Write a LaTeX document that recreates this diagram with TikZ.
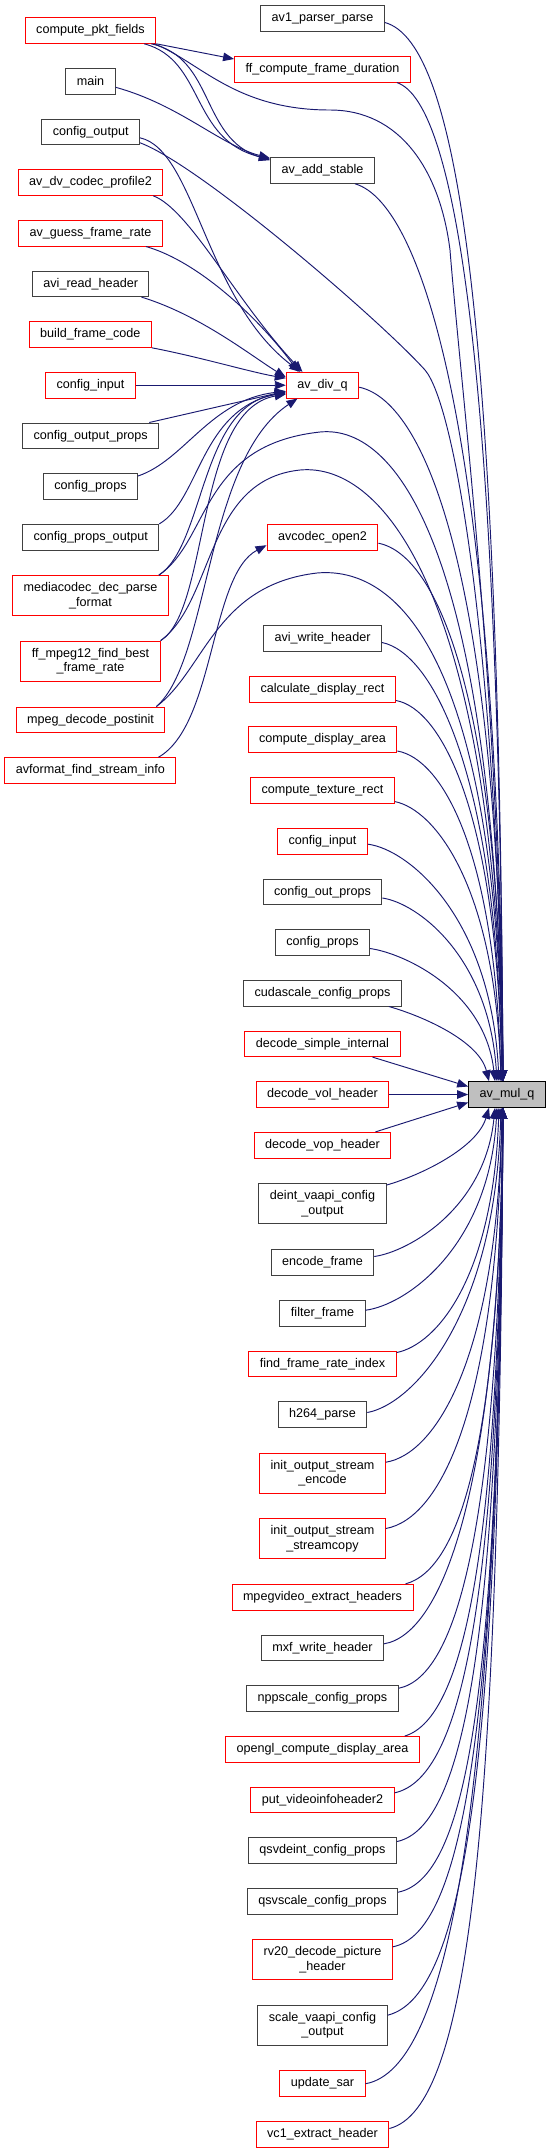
\documentclass[tikz,border=0pt]{standalone}
\usepackage{fontspec}
\setmainfont{Liberation Sans}
\usetikzlibrary{arrows.meta}
\definecolor{edgeblue}{HTML}{191970}
\definecolor{nodered}{HTML}{FF0000}
\definecolor{nodegrey}{HTML}{404040}
\definecolor{mulgrey}{HTML}{BFBFBF}

\begin{document}
\begin{tikzpicture}[
            x=1pt, y=-1pt,
            callbox/.style={draw, line width=1pt, minimum height=25.6pt, inner xsep=11pt, inner ysep=1pt,
                align=center, font=\fontsize{12.6}{14.7}\selectfont},
            redbox/.style={callbox, draw=nodered},
            greybox/.style={callbox, draw=nodegrey},
            tall/.style={minimum height=40.3pt},
            calls/.style={draw=edgeblue, line width=0.95pt, -{Triangle[length=11pt,width=8.5pt]}}
        ]
        \useasboundingbox (0,0) rectangle (551,2153);

        % --- Callers of the callers (left column) ---
        \node[redbox]  (cpf)    at (90.5,30.5)  {compute\_pkt\_fields};
        \node[greybox] (main)   at (90.5,81.3)  {main};
        \node[greybox] (cfgout) at (90.7,131.8) {config\_output};
        \node[redbox]  (dvprof) at (90.5,182.5) {av\_dv\_codec\_profile2};
        \node[redbox]  (guess)  at (90.5,233.2) {av\_guess\_frame\_rate};
        \node[greybox] (avird)  at (90.7,283.8) {avi\_read\_header};
        \node[redbox]  (bfc)    at (90.3,334.5) {build\_frame\_code};
        \node[redbox]  (cfgin)  at (90.5,385.2) {config\_input};
        \node[greybox] (cop1)   at (90.7,435.8) {config\_output\_props};
        \node[greybox] (cprops) at (90.5,486.3) {config\_props};
        \node[greybox] (cpo)    at (90.7,537.2) {config\_props\_output};
        \node[redbox,tall] (mcd)    at (90.5,595.8) {mediacodec\_dec\_parse\\\_format};
        \node[redbox,tall] (mpeg12) at (90.5,661.2) {ff\_mpeg12\_find\_best\\\_frame\_rate};
        \node[redbox]  (mdp)    at (90.5,719.8) {mpeg\_decode\_postinit};
        \node[redbox]  (afsi)   at (90.4,770.5) {avformat\_find\_stream\_info};

        % --- Direct callers (middle column) ---
        \node[greybox] (av1)     at (322.5,18.5)   {av1\_parser\_parse};
        \node[redbox]  (ffcfd)   at (322.5,69.3)   {ff\_compute\_frame\_duration};
        \node[greybox] (avadd)   at (322.5,170.5)  {av\_add\_stable};
        \node[redbox]  (avdivq)  at (322.5,385.2)  {av\_div\_q};
        \node[redbox]  (avco)    at (322.5,537.2)  {avcodec\_open2};
        \node[greybox] (awh)     at (322.5,638.5)  {avi\_write\_header};
        \node[redbox]  (cdr)     at (322.5,689.2)  {calculate\_display\_rect};
        \node[redbox]  (cda)     at (322.5,739.7)  {compute\_display\_area};
        \node[redbox]  (ctr)     at (322.5,790.3)  {compute\_texture\_rect};
        \node[redbox]  (cfgin2)  at (322.5,841.2)  {config\_input};
        \node[greybox] (coutp)   at (322.5,892)    {config\_out\_props};
        \node[greybox] (cprops2) at (322.5,942.5)  {config\_props};
        \node[greybox] (ccp)     at (322.5,993.2)  {cudascale\_config\_props};
        \node[redbox]  (dsi)     at (322.5,1043.8) {decode\_simple\_internal};
        \node[redbox]  (dvol)    at (322.5,1094.5) {decode\_vol\_header};
        \node[redbox]  (dvop)    at (322.5,1145.2) {decode\_vop\_header};
        \node[greybox,tall] (dvc) at (322.5,1203.7) {deint\_vaapi\_config\\\_output};
        \node[greybox] (encf)    at (322.5,1262.5) {encode\_frame};
        \node[greybox] (filt)    at (322.5,1313.2) {filter\_frame};
        \node[redbox]  (frri)    at (322.5,1363.8) {find\_frame\_rate\_index};
        \node[greybox] (h264)    at (322.5,1414.5) {h264\_parse};
        \node[redbox,tall] (iose) at (322.5,1473.2) {init\_output\_stream\\\_encode};
        \node[redbox,tall] (ioss) at (322.5,1538.5) {init\_output\_stream\\\_streamcopy};
        \node[redbox]  (mveh)    at (322.5,1597.2) {mpegvideo\_extract\_headers};
        \node[greybox] (mxf)     at (322.5,1647.8) {mxf\_write\_header};
        \node[greybox] (npp)     at (322.5,1698.5) {nppscale\_config\_props};
        \node[redbox]  (ogl)     at (322.5,1749.3) {opengl\_compute\_display\_area};
        \node[redbox]  (pvi)     at (322.5,1799.8) {put\_videoinfoheader2};
        \node[greybox] (qsvd)    at (322.5,1850.5) {qsvdeint\_config\_props};
        \node[greybox] (qsvs)    at (322.5,1901.2) {qsvscale\_config\_props};
        \node[redbox,tall] (rv20) at (322.5,1959.8) {rv20\_decode\_picture\\\_header};
        \node[greybox,tall] (svc) at (322.5,2025.2) {scale\_vaapi\_config\\\_output};
        \node[redbox]  (usar)    at (322.5,2083.7) {update\_sar};
        \node[redbox]  (vc1)     at (322.5,2134.5) {vc1\_extract\_header};

        % --- The function itself ---
        \node[callbox, draw=black, fill=mulgrey] (avmulq) at (507,1094.5) {av\_mul\_q};

        % --- Edges into ff_compute_frame_duration and av_add_stable ---
        \draw[calls] (cpf.south east) -- ([yshift=-3pt]ffcfd.north west);
        \draw[calls] ([xshift=-12pt]cpf.south east) .. controls (205,60) and (190,140) .. ([yshift=-2pt]avadd.north west);
        \draw[calls] ([xshift=-5pt]cpf.south east) .. controls (215,58) and (200,138) .. ([yshift=-3pt]avadd.north west);
        \draw[calls] ([yshift=-6pt]main.east) .. controls (180,105) and (220,145) .. ([yshift=-1pt]avadd.north west);

        % --- Edges into av_div_q ---
        \draw[calls] ([yshift=-6pt]cfgout.east) .. controls (195,150) and (205,300) .. ([xshift=-22pt]avdivq.north);
        \draw[calls] ([xshift=-10pt]dvprof.south east) .. controls (190,210) and (235,300) .. ([xshift=-20pt]avdivq.north);
        \draw[calls] ([xshift=-17pt]guess.south east) .. controls (200,262) and (260,320) .. ([xshift=-24pt]avdivq.north);
        \draw[calls] ([xshift=-8pt]avird.south east) .. controls (200,315) and (250,355) .. ([yshift=8pt]avdivq.west);
        \draw[calls] (bfc.south east) .. controls (200,357) and (250,372) .. ([yshift=7pt]avdivq.west);
        \draw[calls] (cfgin.east) -- (avdivq.west);
        \draw[calls] ([xshift=-10pt]cop1.north east) -- ([yshift=-6pt]avdivq.west);
        \draw[calls] ([yshift=-3pt]cprops.north east) .. controls (185,460) and (210,400) .. ([yshift=-6pt]avdivq.west);
        \draw[calls] (cpo.north east) .. controls (200,500) and (200,410) .. ([yshift=-7pt]avdivq.west);
        \draw[calls] ([xshift=-10pt]mcd.north east) .. controls (205,545) and (200,405) .. ([yshift=-8pt]avdivq.west);
        \draw[calls] (mpeg12.north east) .. controls (210,610) and (195,410) .. ([yshift=-9pt]avdivq.west);
        \draw[calls] ([xshift=-9pt]mdp.north east) .. controls (210,660) and (205,460) .. ([xshift=-25pt]avdivq.south);

        % --- Edge into avcodec_open2 ---
        \draw[calls] ([xshift=-18pt]afsi.north east) .. controls (215,725) and (210,575) .. ([yshift=-8pt]avco.west);

        % --- Edges into av_mul_q from above ---
        \draw[calls] ([yshift=-4pt]av1.east) .. controls +(75,20) and +(-4,-750) .. ([xshift=-4pt]avmulq.north);
        \draw[calls] ([xshift=-14pt]ffcfd.south east) .. controls +(60,20) and +(-4,-700) .. ([xshift=-4pt]avmulq.north);
        \draw[calls] ([xshift=-2pt]cpf.south east) .. controls (200,62) and (235,110) .. (330,110)
            .. controls (400,110) and (440,170) .. (450,250)
            .. controls (462,400) and (500,700) .. ([xshift=-4pt]avmulq.north);
        \draw[calls] ([yshift=-11pt]cfgout.east) .. controls (200,165) and (380,320) .. (425,370)
            .. controls (455,405) and (497,650) .. ([xshift=-4pt]avmulq.north);
        \draw[calls] ([xshift=-20pt]avadd.south east) .. controls +(70,20) and +(-4,-630) .. ([xshift=-4pt]avmulq.north);
        \draw[calls] ([yshift=-2pt]avdivq.east) .. controls +(70,15) and +(-4,-490) .. ([xshift=-4pt]avmulq.north);
        \draw[calls] ([xshift=-10pt]mcd.north east) .. controls (210,540) and (200,445) .. (320,432)
            .. controls (400,424) and (495,560) .. ([xshift=-4pt]avmulq.north);
        \draw[calls] (mpeg12.north east) .. controls (215,600) and (205,480) .. (300,470)
            .. controls (385,462) and (495,600) .. ([xshift=-4pt]avmulq.north);
        \draw[calls] ([yshift=-6pt]avco.east) .. controls +(60,12) and +(-4,-380) .. ([xshift=-4pt]avmulq.north);
        \draw[calls] ([xshift=-9pt]mdp.north east) .. controls (205,670) and (215,585) .. (317,573)
            .. controls (395,566) and (495,650) .. ([xshift=-4pt]avmulq.north);
        \draw[calls] ([yshift=-4pt]awh.east) .. controls +(50,10) and +(-5,-310) .. ([xshift=-5pt]avmulq.north);
        \draw[calls] ([yshift=2pt]cdr.south east) .. controls +(45,8) and +(-5,-270) .. ([xshift=-5pt]avmulq.north);
        \draw[calls] ([yshift=2pt]cda.south east) .. controls +(45,8) and +(-6,-230) .. ([xshift=-6pt]avmulq.north);
        \draw[calls] ([yshift=2pt]ctr.south east) .. controls +(40,8) and +(-6,-195) .. ([xshift=-6pt]avmulq.north);
        \draw[calls] ([yshift=-3pt]cfgin2.east) .. controls +(40,5) and +(-8,-165) .. ([xshift=-8pt]avmulq.north);
        \draw[calls] ([yshift=-6pt]coutp.east) .. controls +(35,5) and +(-8,-125) .. ([xshift=-10pt]avmulq.north);
        \draw[calls] ([yshift=-6pt]cprops2.east) .. controls +(35,5) and +(-10,-90) .. ([xshift=-12pt]avmulq.north);
        \draw[calls] ([xshift=-13pt]ccp.south east) .. controls +(35,10) and +(-10,-40) .. ([xshift=-18pt]avmulq.north);

        % --- Edges into av_mul_q from the side ---
        \draw[calls] ([xshift=-28pt]dsi.south east) -- ([yshift=8pt]avmulq.west);
        \draw[calls] (dvol.east) -- (avmulq.west);
        \draw[calls] ([xshift=-16pt]dvop.north east) -- ([yshift=-8pt]avmulq.west);

        % --- Edges into av_mul_q from below ---
        \draw[calls] ([yshift=-2pt]dvc.north east) .. controls +(35,-10) and +(-12,40) .. ([xshift=-18pt]avmulq.south);
        \draw[calls] ([yshift=6pt]encf.east) .. controls +(35,-5) and +(-10,100) .. ([xshift=-12pt]avmulq.south);
        \draw[calls] ([yshift=3pt]filt.east) .. controls +(40,-5) and +(-8,140) .. ([xshift=-10pt]avmulq.south);
        \draw[calls] ([yshift=-2pt]frri.north east) .. controls +(40,-8) and +(-6,170) .. ([xshift=-8pt]avmulq.south);
        \draw[calls] ([yshift=2pt]h264.east) .. controls +(45,-8) and +(-6,210) .. ([xshift=-6pt]avmulq.south);
        \draw[calls] ([yshift=11pt]iose.east) .. controls +(50,-8) and +(-5,250) .. ([xshift=-5pt]avmulq.south);
        \draw[calls] ([yshift=10pt]ioss.east) .. controls +(55,-10) and +(-5,300) .. ([xshift=-5pt]avmulq.south);
        \draw[calls] ([xshift=-8pt]mveh.north east) .. controls +(55,-15) and +(-4,335) .. ([xshift=-4pt]avmulq.south);
        \draw[calls] ([yshift=4pt]mxf.east) .. controls +(60,-10) and +(-4,375) .. ([xshift=-4pt]avmulq.south);
        \draw[calls] ([yshift=-3pt]npp.north east) .. controls +(60,-12) and +(-4,410) .. ([xshift=-4pt]avmulq.south);
        \draw[calls] ([xshift=-15pt]ogl.north east) .. controls +(60,-18) and +(-4,440) .. ([xshift=-4pt]avmulq.south);
        \draw[calls] ([yshift=7pt]pvi.east) .. controls +(70,-15) and +(-4,480) .. ([xshift=-4pt]avmulq.south);
        \draw[calls] ([yshift=9pt]qsvd.east) .. controls +(70,-15) and +(-4,515) .. ([xshift=-4pt]avmulq.south);
        \draw[calls] ([yshift=9pt]qsvs.east) .. controls +(75,-15) and +(-4,550) .. ([xshift=-4pt]avmulq.south);
        \draw[calls] ([yshift=13pt]rv20.east) .. controls +(75,-15) and +(-4,590) .. ([xshift=-4pt]avmulq.south);
        \draw[calls] ([yshift=10pt]svc.east) .. controls +(80,-20) and +(-4,640) .. ([xshift=-4pt]avmulq.south);
        \draw[calls] (usar.east) .. controls +(85,-15) and +(-4,690) .. ([xshift=-4pt]avmulq.south);
        \draw[calls] ([yshift=6pt]vc1.east) .. controls +(80,-20) and +(-4,720) .. ([xshift=-4pt]avmulq.south);
        \end{tikzpicture}
\end{document}
